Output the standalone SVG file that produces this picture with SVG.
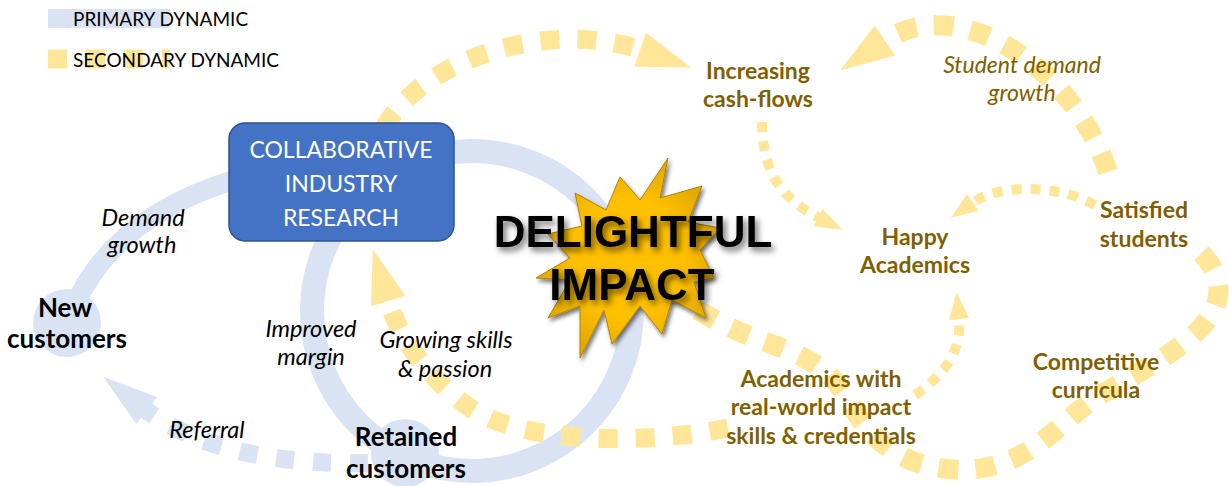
<svg xmlns="http://www.w3.org/2000/svg" width="1229" height="486" viewBox="0 0 1229 486">
  <defs>
    <style>
      .pri { fill: none; stroke: #DAE3F3; }
      .priFill { fill: #DAE3F3; }
      .sec { fill: none; stroke: #FFE699; }
      .lbl { font-family: Lato, "Open Sans", sans-serif; text-anchor: middle; }
      .gold { fill: #7F6000; font-weight: bold; font-size: 23px; }
      .goldIt { fill: #7F6000; font-style: italic; font-size: 23px; }
      .blackB { fill: #000; font-weight: bold; font-size: 26px; }
      .blackIt { fill: #000; font-style: italic; font-size: 23.5px; }
      .legend { font-family: Lato, "Open Sans", sans-serif; font-size: 19px; fill: #000; }
      .boxTxt { font-family: Lato, "Open Sans", sans-serif; font-size: 23px; fill: #fff; text-anchor: middle; }
      .impact { font-family: "Liberation Sans", Arial, sans-serif; font-weight: bold; font-size: 44px; fill: #000; text-anchor: middle; }
    </style>
    <marker id="arrY" markerUnits="userSpaceOnUse" orient="auto" refX="1" refY="0" markerWidth="60" markerHeight="40" overflow="visible">
      <path d="M0,-18 L54,0 L0,18 Z" fill="#FFE699"/>
    </marker>
    <marker id="arrYs" markerUnits="userSpaceOnUse" orient="auto" refX="1" refY="0" markerWidth="30" markerHeight="24" overflow="visible">
      <path d="M0,-10 L27,0 L0,10 Z" fill="#FFE699"/>
    </marker>
    <marker id="arrB" markerUnits="userSpaceOnUse" orient="auto" refX="1" refY="0" markerWidth="60" markerHeight="40" overflow="visible">
      <path d="M0,-17 L55,0 L0,17 Z" fill="#DAE3F3"/>
    </marker>
    <radialGradient id="burstFill" cx="50%" cy="50%" r="55%">
      <stop offset="0.55" stop-color="#FFC000"/>
      <stop offset="1" stop-color="#D9A300"/>
    </radialGradient>
    <filter id="burstShadow" x="-20%" y="-20%" width="150%" height="150%">
      <feDropShadow dx="2" dy="3" stdDeviation="2" flood-color="#000" flood-opacity="0.55"/>
    </filter>
    <filter id="textShadow" x="-10%" y="-20%" width="130%" height="160%">
      <feDropShadow dx="3" dy="4" stdDeviation="3" flood-color="#000" flood-opacity="0.55"/>
    </filter>
  </defs>

  <rect width="1229" height="486" fill="#fff"/>

  <!-- legend -->
  <g id="legend">
    <line class="pri" x1="48" y1="18.5" x2="170" y2="18.5" stroke-width="19"/>
    <line class="sec" x1="48" y1="59" x2="170" y2="59" stroke-width="19" stroke-dasharray="19 19"/>
    <text class="legend" x="73" y="26">PRIMARY DYNAMIC</text>
    <text class="legend" x="73" y="67">SECONDARY DYNAMIC</text>
  </g>

  <!-- primary and secondary connectors -->
  <g id="connectors">
    <!-- primary: demand growth arc -->
    <path class="pri" d="M 75 305 Q 115 215 240 178" stroke-width="20"/>
    <!-- primary: research / margin loop -->
    <circle class="pri" cx="472" cy="311" r="160" stroke-width="24"/>
    <!-- primary: referral -->
    <path class="pri" d="M 368 463 C 290 465 200 452 146 410" stroke-width="18" stroke-dasharray="18 19" marker-end="url(#arrB)"/>

    <!-- secondary: research to cash-flows -->
    <path class="sec" d="M 384 128 C 425 55 555 20 641 50" stroke-width="19" stroke-dasharray="19 18" marker-end="url(#arrY)"/>
    <!-- secondary: cash-flows to happy academics -->
    <path class="sec" d="M 762 122 C 762 170 780 198 819 218" stroke-width="10" stroke-dasharray="10 9" marker-end="url(#arrYs)"/>
    <!-- secondary: satisfied students to happy academics -->
    <path class="sec" d="M 1095 205 C 1060 185 1000 183 972 203" stroke-width="10" stroke-dasharray="10 9" marker-end="url(#arrYs)"/>
    <!-- secondary: academics with impact to happy academics -->
    <path class="sec" d="M 915 395 C 945 375 962 350 959 318" stroke-width="10" stroke-dasharray="10 9" marker-end="url(#arrYs)"/>
    <!-- secondary: impact through academics, curricula to satisfied students -->
    <path class="sec" d="M 698 310 C 760 350 815 345 845 395 C 870 440 900 468 960 470 C 1030 470 1060 420 1100 395 C 1150 365 1225 330 1218 285 C 1215 268 1208 260 1200 252" stroke-width="20" stroke-dasharray="20 17"/>
    <!-- secondary: student demand growth back to cash-flows -->
    <path class="sec" d="M 1108 172 C 1075 70 960 -10 884 41" stroke-width="20" stroke-dasharray="20 17" marker-end="url(#arrY)"/>
    <!-- secondary: academics skills back to research -->
    <path class="sec" d="M 728 428 C 640 446 520 442 470 408 C 430 380 400 340 388 300" stroke-width="19" stroke-dasharray="19 18" marker-end="url(#arrY)"/>
  </g>

  <g id="new-customers">
    <circle class="priFill" cx="67" cy="323" r="34"/>
    <text class="lbl blackB"><tspan x="65" y="317">New</tspan><tspan x="67" y="348">customers</tspan></text>
  </g>

  <g id="retained-customers">
    <circle class="priFill" cx="405" cy="453" r="34"/>
    <text class="lbl blackB"><tspan x="406" y="446">Retained</tspan><tspan x="406" y="478">customers</tspan></text>
  </g>

  <g id="research">
    <rect x="229" y="123" width="225" height="118" rx="16" fill="#4472C4" stroke="#2F528F" stroke-width="1.5"/>
    <text class="boxTxt"><tspan x="341" y="158">COLLABORATIVE</tspan><tspan x="341" y="192">INDUSTRY</tspan><tspan x="341" y="226">RESEARCH</tspan></text>
  </g>

  <g id="delightful-impact">
    <polygon points="668,158 660,198 702,186 688,222 720,228 700,250 714,278 694,282 706,318 672,300 662,334 640,306 612,344 604,310 580,358 580,306 548,318 570,280 536,278 570,258 548,234 582,226 575,193 606,210 620,177 640,200" fill="url(#burstFill)" stroke="#B08400" stroke-width="1" filter="url(#burstShadow)"/>
    <text class="impact" filter="url(#textShadow)"><tspan x="633" y="247">DELIGHTFUL</tspan><tspan x="632" y="300">IMPACT</tspan></text>
  </g>

  <g id="edge-labels">
    <text class="lbl blackIt"><tspan x="143" y="226">Demand</tspan><tspan x="142" y="253">growth</tspan></text>
    <text class="lbl blackIt"><tspan x="311" y="337">Improved</tspan><tspan x="311" y="365">margin</tspan></text>
    <text class="lbl blackIt"><tspan x="446" y="348">Growing skills</tspan><tspan x="445" y="377">&amp; passion</tspan></text>
    <text class="lbl blackIt" x="207" y="438">Referral</text>
    <text class="lbl goldIt"><tspan x="1022" y="73">Student demand</tspan><tspan x="1022" y="101">growth</tspan></text>
  </g>

  <g id="cash-flows">
    <text class="lbl gold"><tspan x="758" y="79">Increasing</tspan><tspan x="758" y="107">cash-flows</tspan></text>
  </g>

  <g id="happy-academics">
    <text class="lbl gold"><tspan x="915" y="245">Happy</tspan><tspan x="915" y="273">Academics</tspan></text>
  </g>

  <g id="satisfied-students">
    <text class="lbl gold"><tspan x="1144" y="218">Satisfied</tspan><tspan x="1144" y="247">students</tspan></text>
  </g>

  <g id="competitive-curricula">
    <text class="lbl gold"><tspan x="1096" y="370">Competitive</tspan><tspan x="1096" y="398">curricula</tspan></text>
  </g>

  <g id="academics-impact">
    <text class="lbl gold"><tspan x="821" y="387">Academics with</tspan><tspan x="821" y="415">real-world impact</tspan><tspan x="821" y="444">skills &amp; credentials</tspan></text>
  </g>
</svg>
